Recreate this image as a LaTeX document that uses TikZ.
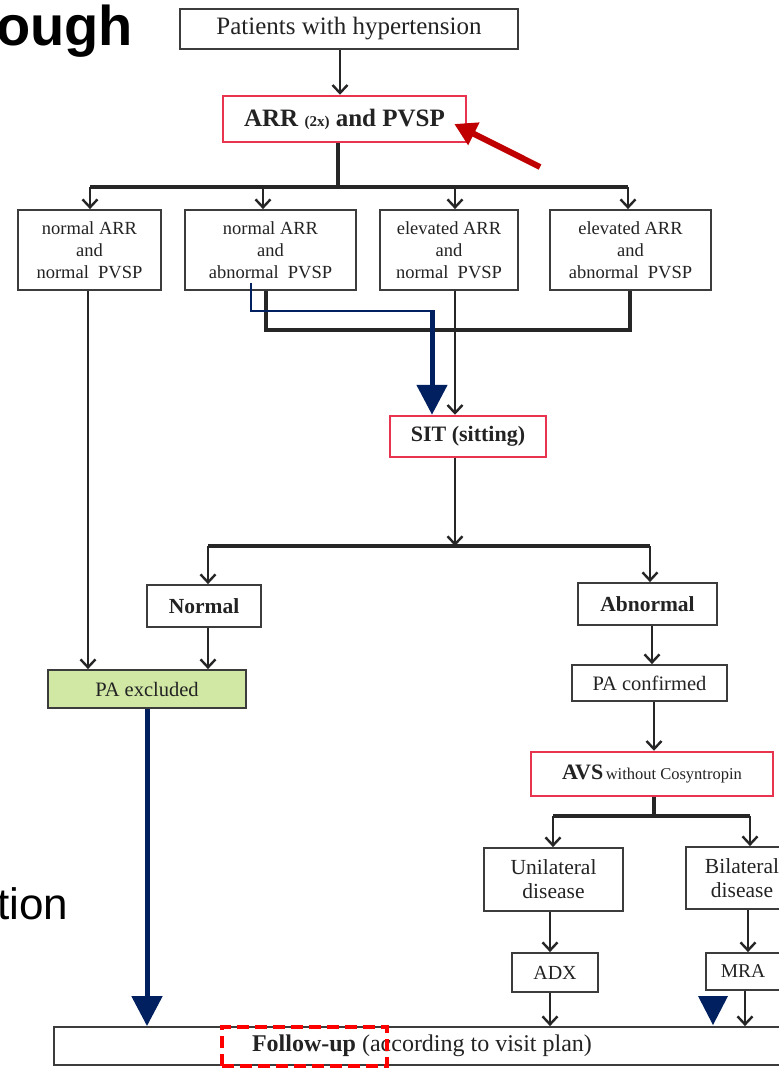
\documentclass[tikz,border=0pt]{standalone}
\usepackage{fontspec}
\setmainfont{Liberation Serif}
\newfontfamily\sansf{Liberation Sans}
\usetikzlibrary{arrows.meta,calc}
\definecolor{boxc}{RGB}{60,60,60}
\definecolor{txt}{RGB}{35,35,35}
\definecolor{redb}{RGB}{232,52,78}
\definecolor{darkred}{RGB}{192,0,0}
\definecolor{navyb}{RGB}{0,32,96}
\definecolor{pagreen}{RGB}{208,232,164}
\begin{document}
\begin{tikzpicture}[x=1pt,y=-1pt,
  box/.style={draw=boxc, line width=1.8pt, fill=white, text=txt, align=center, inner sep=0pt},
  rbox/.style={box, draw=redb, line width=2.5pt},
  small/.style={font=\fontsize{18.5}{22}\selectfont},
  arr/.style={draw=black!85, line width=2.4pt, -{Straight Barb[length=8pt,width=15pt,line width=2.4pt]}},
  bar/.style={draw=black!85, line width=3.2pt},
  bluethin/.style={draw=navyb, line width=2.5pt},
  bluearr/.style={draw=navyb, line width=5pt, -{Triangle[length=30pt,width=30pt]}},
  reddash/.style={draw=red, line width=4pt, dash pattern=on 12pt off 6pt}
]
\useasboundingbox (0,0) rectangle (779,1069);
\clip (0,0) rectangle (779,1069);
\fill[white] (0,0) rectangle (779,1069);

% cropped slide texts
\node[anchor=base west, inner sep=0, font=\sansf\bfseries\fontsize{56}{56}\selectfont] (tough) at (-4,45) {ough};
\node[anchor=base west, inner sep=0, font=\sansf\fontsize{44}{44}\selectfont] (ttion) at (-3,919) {tion};

% boxes
\node[box, minimum width=338, minimum height=40, font=\fontsize{25}{25}\selectfont] (pat) at (349,29) {Patients with hypertension};
\node[rbox, minimum width=243, minimum height=46, font=\bfseries\fontsize{25}{25}\selectfont] (arr) at (344.5,119) {ARR {\fontsize{15}{15}\selectfont (2x)} and PVSP};

\node[box, small, minimum width=143, minimum height=80] (b1) at (89.5,250) {normal ARR\\and\\normal\ \ PVSP};
\node[box, small, minimum width=171, minimum height=80] (b2) at (270.5,250) {normal ARR\\and\\abnormal\ \ PVSP};
\node[box, small, minimum width=138, minimum height=80] (b3) at (449,250) {elevated ARR\\and\\normal\ \ PVSP};
\node[box, small, minimum width=161, minimum height=80] (b4) at (630.5,250) {elevated ARR\\and\\abnormal\ \ PVSP};

\node[rbox, minimum width=156, minimum height=41, font=\bfseries\fontsize{22}{22}\selectfont] (sit) at (468,436.5) {SIT (sitting)};

\node[box, minimum width=114, minimum height=42, font=\bfseries\fontsize{21.5}{22}\selectfont] (norm) at (204,606) {Normal};
\node[box, minimum width=139, minimum height=42, font=\bfseries\fontsize{21.5}{22}\selectfont] (abn) at (647.5,604) {Abnormal};

\node[box, fill=pagreen, minimum width=198, minimum height=38, font=\fontsize{20.5}{22}\selectfont] (paex) at (147,689) {PA excluded};
\node[box, minimum width=155, minimum height=36, font=\fontsize{20.5}{22}\selectfont] (pacf) at (649.5,683) {PA confirmed};

\node[rbox, minimum width=242, minimum height=44] (avs) at (652,774) {{\bfseries\fontsize{22}{22}\selectfont AVS} {\fontsize{16.5}{17}\selectfont without Cosyntropin}};

\node[box, minimum width=139, minimum height=63, font=\fontsize{21.5}{24}\selectfont] (uni) at (553.5,879.5) {Unilateral\\disease};
\node[box, minimum width=112, minimum height=62, font=\fontsize{21.5}{24}\selectfont] (bil) at (742,878) {Bilateral\\disease};

\node[box, minimum width=86, minimum height=39, font=\fontsize{20}{22}\selectfont] (adx) at (555,972.5) {ADX};
\node[box, minimum width=74, minimum height=37, font=\fontsize{19.5}{22}\selectfont] (mra) at (743,971.5) {MRA};

\node[box, minimum width=736, minimum height=38, font=\fontsize{24}{26}\selectfont] (follow) at (422,1046) {{\bfseries Follow-up} (according to visit plan)};

% level 1
\coordinate (j1) at (338,187);
\draw[bar] (arr.south -| j1) -- (j1);
\draw[bar] (90,187) coordinate (t1) -- (628,187) coordinate (t4);
\coordinate (t2) at (263,187);
\coordinate (t3) at (455,187);
\draw[arr] (pat.south -| 340,0) -- (arr.north -| 340,0);
\draw[arr] (t1) -- (t1 |- b1.north);
\draw[arr] (t2) -- (t2 |- b2.north);
\draw[arr] (t3) -- (t3 |- b3.north);
\draw[arr] (t4) -- (t4 |- b4.north);

% converge
\coordinate (c2) at (266,330);
\coordinate (c4) at (630,330);
\draw[bar] (b2.south -| c2) -- (c2) -- (c4) -- (b4.south -| c4);
\coordinate (c3) at (455,0);
\draw[arr] (b3.south -| c3) -- (sit.north -| c3);

% b1 to PA excluded
\coordinate (c1) at (88,0);
\draw[arr] (b1.south -| c1) -- (paex.north -| c1);

% SIT split
\coordinate (j2) at (455,546);
\draw[arr] (sit.south -| j2) -- (j2);
\draw[bar] (208,546) coordinate (s1) -- (650,546) coordinate (s2);
\draw[arr] (s1) -- (s1 |- norm.north);
\draw[arr] (s2) -- (s2 |- abn.north);

\coordinate (c5) at (208,0);
\draw[arr] (norm.south -| c5) -- (paex.north -| c5);
\coordinate (c6) at (652,0);
\draw[arr] (abn.south -| c6) -- (pacf.north -| c6);
\coordinate (c7) at (654,0);
\draw[arr] (pacf.south -| c7) -- (avs.north -| c7);

% AVS split
\coordinate (j3) at (654,816);
\draw[bar] (avs.south -| j3) -- (j3);
\draw[bar] (553,816) coordinate (u1) -- (750,816) coordinate (u2);
\draw[arr] (u1) -- (u1 |- uni.north);
\draw[arr] (u2) -- (u2 |- bil.north);

\coordinate (c8) at (550,0);
\draw[arr] (uni.south -| c8) -- (adx.north -| c8);
\draw[arr] (adx.south -| c8) -- (follow.north -| c8);
\coordinate (c9) at (748,0);
\draw[arr] (bil.south -| c9) -- (mra.north -| c9);
\coordinate (c10) at (745,0);
\draw[arr] (mra.south -| c10) -- (follow.north -| c10);

% red arrow
\coordinate (rt) at (540,167);
\draw[darkred, line width=6pt, -{Triangle[length=22pt,width=24pt]}] (rt) -- ($(arr.east)+(-13,5)$);

% blue arrows
\coordinate (bs) at (251,283);
\coordinate (bc) at (432,311);
\draw[bluethin] (bs) |- ($(bc)+(1.25,0)$);
\draw[bluearr] ($(bc)+(0,-1.25)$) -- (sit.north -| bc);
\draw[bluearr] (paex.south) -- (paex.south |- follow.north);
\fill[navyb] (698,996) -- (728,996) -- (713,1025) -- cycle;

% red dashed highlight
\node[reddash, minimum width=165, minimum height=39, inner sep=0] (hl) at (304.5,1046.5) {};
\end{tikzpicture}
\end{document}
